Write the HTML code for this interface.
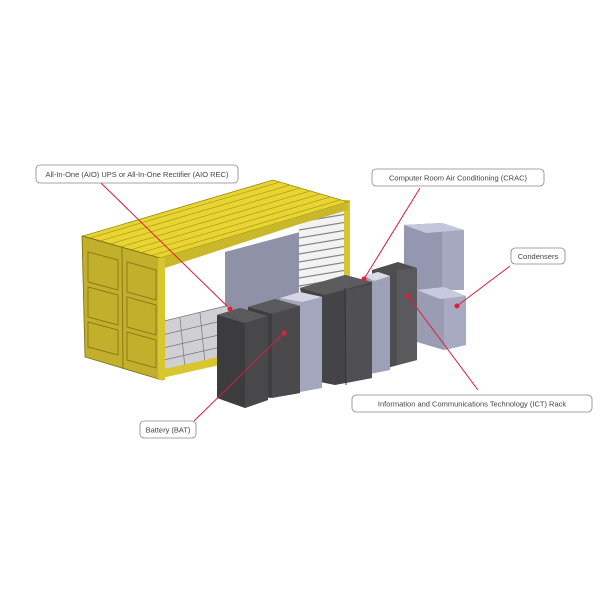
<!DOCTYPE html>
<html><head><style>html,body{margin:0;padding:0;background:#fff;}svg{display:block}</style></head>
<body>
<svg width="600" height="600" viewBox="0 0 600 600" xmlns="http://www.w3.org/2000/svg" font-family="Liberation Sans, sans-serif">
<!-- container back wall interior -->
<polygon points="225,252 300,232 300,305 225,320" fill="#8f91a6"/>
<!-- louvers -->
<rect x="299" y="205" width="48" height="95" fill="#f2f2f2"/>
<g stroke="#888" stroke-width="1.2">
<line x1="299" y1="214" x2="347" y2="206"/><line x1="299" y1="222" x2="347" y2="214"/><line x1="299" y1="230" x2="347" y2="222"/><line x1="299" y1="238" x2="347" y2="230"/><line x1="299" y1="246" x2="347" y2="238"/><line x1="299" y1="254" x2="347" y2="246"/><line x1="299" y1="262" x2="347" y2="254"/><line x1="299" y1="270" x2="347" y2="262"/><line x1="299" y1="278" x2="347" y2="270"/><line x1="299" y1="286" x2="347" y2="278"/><line x1="299" y1="294" x2="347" y2="286"/>
</g>
<rect x="344" y="200" width="6" height="102" fill="#d8c630"/>
<!-- floor -->
<polygon points="160,322 230,305 240,355 165,372" fill="#d0d0d4" stroke="#777" stroke-width="0.8"/>
<g stroke="#777" stroke-width="0.7"><line x1="162" y1="335" x2="234" y2="318"/><line x1="163" y1="348" x2="236" y2="331"/><line x1="164" y1="360" x2="238" y2="343"/><line x1="180" y1="318" x2="185" y2="368"/><line x1="200" y1="313" x2="205" y2="363"/></g>
<polygon points="160,370 240,352 242,360 162,378" fill="#d8c630"/>
<!-- roof -->
<polygon points="83,236 273,180 348,202 160,258" fill="#e8d531" stroke="#9a8a10" stroke-width="0.8"/>
<g stroke="#b0a020" stroke-width="0.8">
<line x1="90" y1="238" x2="280" y2="182"/><line x1="100" y1="241" x2="290" y2="185"/><line x1="110" y1="244" x2="300" y2="188"/><line x1="120" y1="247" x2="310" y2="191"/><line x1="130" y1="250" x2="320" y2="194"/><line x1="140" y1="253" x2="330" y2="197"/><line x1="150" y1="256" x2="340" y2="200"/>
</g>
<polygon points="160,258 348,202 348,210 300,224 165,268" fill="#c9b82a"/>
<!-- door face -->
<polygon points="82,236 160,258 162,380 85,357" fill="#c2b02c" stroke="#7a6c10" stroke-width="0.8"/>
<g stroke="#8a7c18" stroke-width="1" fill="none">
<line x1="122" y1="247" x2="123" y2="369"/>
<polygon points="88,252 118,260 118,290 88,282"/><polygon points="127,262 156,270 156,300 127,292"/>
<polygon points="88,287 118,295 118,325 88,317"/><polygon points="127,297 156,305 156,335 127,327"/>
<polygon points="88,322 118,330 118,355 88,347"/><polygon points="127,332 156,340 156,368 127,360"/>
</g>
<rect x="158" y="258" width="7" height="122" fill="#d8c630"/>
<!-- condensers -->
<polygon points="404,225 442,223 464,230 464,290 442,290 404,290" fill="#a6a8c0"/>
<polygon points="404,225 442,223 442,290 404,290" fill="#9597b0"/>
<polygon points="404,225 442,223 464,230 426,233" fill="#c4c6dc"/>
<polygon points="417,290 444,287 466,296 466,345 444,350 417,342" fill="#9a9cb4"/>
<polygon points="444,296 466,296 466,345 444,350" fill="#a8aac2"/>
<polygon points="417,290 444,287 466,296 440,299" fill="#c8cae0"/>
<!-- ICT right -->
<polygon points="372,270 398,262 417,268 417,360 372,372" fill="#4e4e50"/>
<polygon points="397,270 417,268 417,360 397,365" fill="#5a5a5c"/>
<!-- CRAC slab -->
<polygon points="364,276 378,272 390,276 390,370 370,374" fill="#9ea0b8"/>
<polygon points="364,276 378,272 390,276 374,281" fill="#d8daea"/>
<!-- ICT left -->
<polygon points="300,288 345,275 372,282 372,378 335,385 320,382" fill="#444446"/>
<polygon points="300,288 345,275 372,282 325,295" fill="#5c5c5e"/>
<polygon points="346,290 372,284 372,378 346,383" fill="#505052"/>
<line x1="345" y1="288" x2="346" y2="385" stroke="#333"/>
<!-- light slab -->
<polygon points="280,298 300,292 322,297 322,388 300,392 282,388" fill="#a4a6be"/>
<polygon points="280,298 300,292 322,297 302,302" fill="#d4d6e6"/>
<!-- Cab2 -->
<polygon points="248,307 275,299 300,306 300,393 270,398 250,392" fill="#3e3e40"/>
<polygon points="248,307 275,299 300,306 272,314" fill="#5a5a5c"/>
<polygon points="272,314 300,306 300,393 272,398" fill="#4a4a4c"/>
<!-- Cab1 -->
<polygon points="217,315 240,308 268,316 268,400 245,408 217,398" fill="#3c3c3e"/>
<polygon points="217,315 240,308 268,316 245,323" fill="#5a5a5c"/>
<polygon points="245,323 268,316 268,400 245,408" fill="#48484a"/>
<!-- lines -->
<g stroke="#d8203a" stroke-width="1">
<line x1="101" y1="183" x2="230" y2="309"/>
<line x1="420" y1="188" x2="364" y2="279"/>
<line x1="408" y1="296" x2="478" y2="390"/>
<line x1="510" y1="266" x2="457" y2="306"/>
<line x1="194" y1="421" x2="284" y2="333"/>
</g>
<g fill="#e0203a"><circle cx="230" cy="309" r="2.5"/><circle cx="364" cy="279" r="2.5"/><circle cx="408" cy="296" r="2.5"/><circle cx="457" cy="306" r="2.5"/><circle cx="284" cy="333" r="2.5"/></g>
<!-- labels -->
<g fill="#fff" stroke="#888" stroke-width="0.8">
<rect x="36" y="165" width="202" height="18" rx="4"/>
<rect x="372" y="169" width="172" height="17" rx="4"/>
<rect x="511" y="248" width="54" height="16" rx="4"/>
<rect x="352" y="395" width="240" height="17" rx="4"/>
<rect x="140" y="421" width="56" height="17" rx="4"/>
</g>
<g fill="#444" font-size="7.5">
<text x="137" y="177" text-anchor="middle">All-In-One (AIO) UPS or All-In-One Rectifier (AIO REC)</text>
<text x="458" y="180.5" text-anchor="middle">Computer Room Air Conditioning (CRAC)</text>
<text x="538" y="259" text-anchor="middle">Condensers</text>
<text x="472" y="406.5" text-anchor="middle">Information and Communications Technology (ICT) Rack</text>
<text x="168" y="432.5" text-anchor="middle">Battery (BAT)</text>
</g>
</svg>
</body></html>
